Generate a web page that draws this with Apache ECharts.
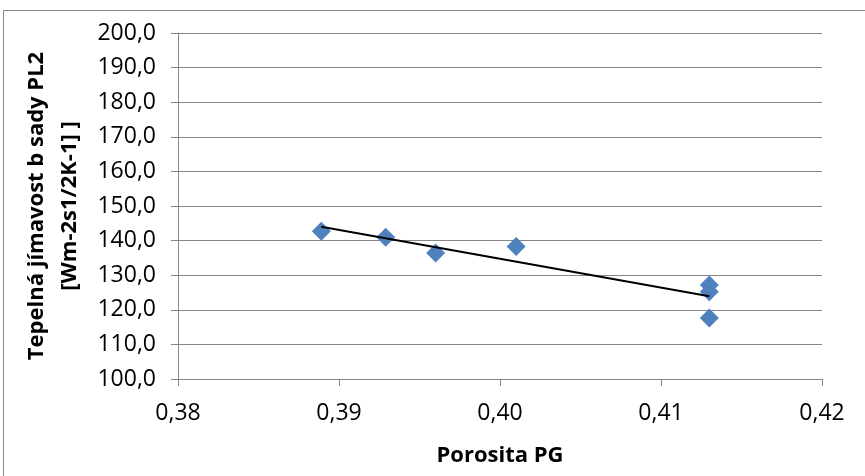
<!DOCTYPE html>
<html>
<head>
<meta charset="utf-8">
<script src="https://cdn.jsdelivr.net/npm/echarts@6/dist/echarts.min.js"></script>
<style>
  html, body { margin: 0; padding: 0; background: #fff; }
  #chart { width: 865px; height: 476px; }
</style>
</head>
<body>
<div id="chart"></div>
<script>
// Porosity PG vs. thermal effusivity b (set PL2)
const porosity = [0.3889, 0.3929, 0.3960, 0.4010, 0.4130, 0.4130, 0.4130];
const effusivity = [142.7, 141.0, 136.4, 138.3, 127.2, 125.2, 117.6];
const xTicks = { min: 0.38, max: 0.42, step: 0.01 };
const yTicks = { min: 100, max: 200, step: 10 };
const xTitle = 'Porosita PG';
const yTitle = 'Tepelná jímavost b sady PL2\n[Wm-2s1/2K-1] ]';

// least-squares linear trend through the measured points
function linearTrend(xs, ys) {
  const n = xs.length;
  const mx = xs.reduce((a, b) => a + b, 0) / n;
  const my = ys.reduce((a, b) => a + b, 0) / n;
  let sxy = 0, sxx = 0;
  for (let i = 0; i < n; i++) {
    sxy += (xs[i] - mx) * (ys[i] - my);
    sxx += (xs[i] - mx) * (xs[i] - mx);
  }
  const k = sxy / sxx;
  const q = my - k * mx;
  const x0 = Math.min(...xs), x1 = Math.max(...xs);
  return [[x0, k * x0 + q], [x1, k * x1 + q]];
}

const points = porosity.map((x, i) => [x, effusivity[i]]);
const trend = linearTrend(porosity, effusivity);

const FONT = 'Open Sans';
const GRAY = '#868686';

const chart = echarts.init(document.getElementById('chart'), null, { renderer: 'canvas' });
chart.setOption({
  animation: false,
  backgroundColor: '#fff',
  grid: { left: 178, right: 43, top: 33, bottom: 97 },
  graphic: [{
    type: 'rect',
    shape: { x: 3.5, y: 10.5, width: 900, height: 500 },
    style: { fill: 'none', stroke: GRAY, lineWidth: 1 },
    silent: true
  }],
  xAxis: {
    type: 'value',
    min: xTicks.min, max: xTicks.max, interval: xTicks.step,
    name: xTitle,
    nameLocation: 'middle',
    nameGap: 66,
    nameTextStyle: { fontFamily: FONT, fontSize: 22, fontWeight: 'bold', color: '#000' },
    axisLine: { show: true, lineStyle: { color: GRAY, width: 1 } },
    axisTick: { show: true, length: 7, lineStyle: { color: GRAY } },
    splitLine: { show: false },
    axisLabel: {
      margin: 23,
      fontFamily: FONT, fontSize: 23, color: '#000',
      formatter: v => v.toFixed(2).replace('.', ',')
    }
  },
  yAxis: {
    type: 'value',
    min: yTicks.min, max: yTicks.max, interval: yTicks.step,
    name: yTitle,
    nameLocation: 'middle',
    nameGap: 88,
    nameTextStyle: { fontFamily: FONT, fontSize: 22, fontWeight: 'bold', color: '#000', lineHeight: 33, align: 'center' },
    axisLine: { show: true, lineStyle: { color: GRAY, width: 1 } },
    axisTick: { show: true, length: 7, lineStyle: { color: GRAY } },
    splitLine: { show: true, lineStyle: { color: GRAY, width: 1 } },
    axisLabel: {
      margin: 22,
      fontFamily: FONT, fontSize: 23, color: '#000',
      formatter: v => v.toFixed(1).replace('.', ',')
    }
  },
  series: [
    {
      type: 'scatter',
      data: points,
      symbol: 'diamond',
      symbolSize: 19,
      itemStyle: { color: '#4F81BD', opacity: 1 },
      z: 2
    },
    {
      type: 'line',
      data: trend,
      symbol: 'none',
      lineStyle: { color: '#000', width: 2 },
      z: 3
    }
  ]
});
</script>
</body>
</html>
